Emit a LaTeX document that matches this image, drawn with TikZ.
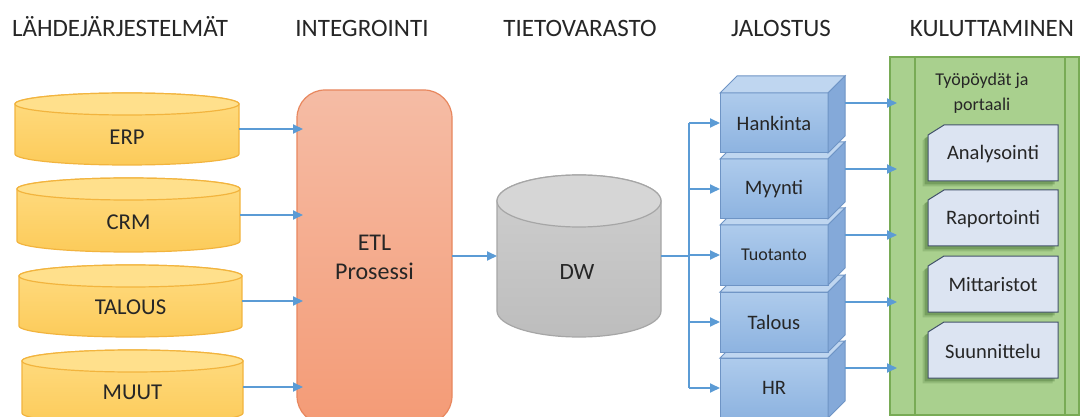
\documentclass[tikz,border=0pt]{standalone}
\usepackage{fontspec}
\setmainfont{Carlito}
\usetikzlibrary{arrows.meta,calc}
\newdimen\upx \upx=0.75pt
\definecolor{arrc}{HTML}{5B9BD5}
\definecolor{txtc}{HTML}{262626}
\definecolor{ylwtop}{HTML}{FFE08C}
\definecolor{ylwbodyA}{HTML}{FFDC82}
\definecolor{ylwbodyB}{HTML}{FCCB5A}
\definecolor{ylwline}{HTML}{F2B43E}
\definecolor{etlA}{HTML}{F5BCA5}
\definecolor{etlB}{HTML}{F49B76}
\definecolor{etlline}{HTML}{E8875E}
\definecolor{dwtop}{HTML}{D6D6D6}
\definecolor{dwA}{HTML}{CFCFCF}
\definecolor{dwB}{HTML}{BDBDBD}
\definecolor{dwline}{HTML}{A6A6A6}
\definecolor{cubeA}{HTML}{AECBEC}
\definecolor{cubeB}{HTML}{8DB3E0}
\definecolor{cubetopc}{HTML}{BFD6F0}
\definecolor{cuberightc}{HTML}{84A9D9}
\definecolor{cubeline}{HTML}{6E94C5}
\definecolor{grn}{HTML}{A9D08E}
\definecolor{grnline}{HTML}{78AB55}
\definecolor{cardc}{HTML}{DCE4F2}
\definecolor{cardline}{HTML}{43536B}
\definecolor{shadowc}{HTML}{3E6A2A}

\tikzset{
  frame/.style={inner sep=0pt, outer sep=0pt},
  hdr/.style={anchor=base, inner sep=0pt, text=txtc, font=\fontsize{18.75}{22}\selectfont},
  lbl/.style={inner sep=0pt, text=txtc, font=\fontsize{17}{20}\selectfont},
  smalllbl/.style={inner sep=0pt, text=txtc, font=\fontsize{15.4}{18}\selectfont},
  arr/.style={draw=arrc, line width=1.35pt, -{Triangle[length=7.5pt,width=6.75pt]}},
  busline/.style={draw=arrc, line width=1.35pt},
  ylwbody/.style={top color=ylwbodyA, bottom color=ylwbodyB, draw=ylwline, line width=0.9pt},
  ylwtopst/.style={fill=ylwtop, draw=ylwline, line width=0.9pt},
  dwbody/.style={top color=dwA, bottom color=dwB, draw=dwline, line width=0.9pt},
  dwtopst/.style={fill=dwtop, draw=dwline, line width=0.9pt},
  cube/.style={frame, minimum width=81pt, minimum height=45pt, top color=cubeA, bottom color=cubeB,
    draw=cubeline, line width=0.75pt, text=txtc, font=\fontsize{15.4}{18}\selectfont},
  cubetop/.style={fill=cubetopc, draw=cubeline, line width=0.75pt},
  cuberight/.style={fill=cuberightc, draw=cubeline, line width=0.75pt},
  cardframe/.style={frame, minimum width=97.5pt, minimum height=42pt},
  cardst/.style={fill=cardc, draw=cardline, line width=0.75pt},
  cardshadow/.style={fill=shadowc, opacity=0.35},
}

% cylinder drawn on a frame node spanning top-ellipse centre to bottom-ellipse centre
\newcommand{\cylshape}[5]{%
  \path[#4] (#1.north west) -- (#1.south west)
     arc[start angle=180,end angle=0,x radius=#2,y radius=#3]
     -- (#1.north east)
     arc[start angle=0,end angle=-180,x radius=#2,y radius=#3] -- cycle;
  \path[#5] (#1.north) ellipse[x radius=#2,y radius=#3];
}
\newcommand{\cubefaces}[1]{%
  \path[cubetop] (#1.north west) -- ++(17,-17) -- ($(#1.north east)+(17,-17)$) -- (#1.north east) -- cycle;
  \path[cuberight] (#1.north east) -- ++(17,-17) -- ($(#1.south east)+(17,-17)$) -- (#1.south east) -- cycle;
}
\newcommand{\cardpath}[1]{($(#1.north west)+(0,10)$) -- ($(#1.north west)+(16,0)$) -- (#1.north east) -- (#1.south east) -- (#1.south west) -- cycle}

\begin{document}
\begin{tikzpicture}[x=0.75pt,y=-0.75pt]
\useasboundingbox (0,0) rectangle (1082,417);
\clip (0,0) rectangle (1082,417);
\fill[white] (0,0) rectangle (1082,417);

% headers
\node[hdr] (h1) at (120,37) {LÄHDEJÄRJESTELMÄT};
\node[hdr] (h2) at (362,37) {INTEGROINTI};
\node[hdr] (h3) at (580,37) {TIETOVARASTO};
\node[hdr] (h4) at (781,37) {JALOSTUS};
\node[hdr] (h5) at (992,37) {KULUTTAMINEN};

% source cylinders
\node[frame, minimum width=168pt, minimum height=37.5pt] (erp) at (127,129) {};
\cylshape{erp}{112}{11}{ylwbody}{ylwtopst}
\node[lbl] (erp-t) at ($(erp.center)+(0,8)$) {ERP};

\node[frame, minimum width=167.25pt, minimum height=39pt] (crm) at (128.5,215) {};
\cylshape{crm}{111.5}{11}{ylwbody}{ylwtopst}
\node[lbl] (crm-t) at ($(crm.center)+(0,7)$) {CRM};

\node[frame, minimum width=167.25pt, minimum height=37.5pt] (tal) at (130.5,301) {};
\cylshape{tal}{111.5}{11}{ylwbody}{ylwtopst}
\node[lbl] (tal-t) at ($(tal.center)+(0,6)$) {TALOUS};

\node[frame, minimum width=165.75pt, minimum height=39pt] (muut) at (132.5,387) {};
\cylshape{muut}{110.5}{11}{ylwbody}{ylwtopst}
\node[lbl] (muut-t) at ($(muut.center)+(0,5)$) {MUUT};

% ETL
\node[frame, minimum width=116.25pt, minimum height=250.5pt, rounded corners=21pt,
  top color=etlA, bottom color=etlB, draw=etlline, line width=0.9pt,
  text=txtc, align=center, font=\fontsize{18}{21.75}\selectfont] (etl) at (374.5,257) {ETL\\Prosessi};

% DW
\node[frame, minimum width=123pt, minimum height=82.5pt] (dw) at (579,256) {};
\cylshape{dw}{82}{26}{dwbody}{dwtopst}
\node[lbl, font=\fontsize{17.5}{20}\selectfont] (dw-t) at ($(dw.center)+(-2,16)$) {DW};

% cubes (bottom first)
\node[cube] (hr) at (774,388) {HR};
\cubefaces{hr}
\node[cube] (talc) at (774,322) {Talous};
\cubefaces{talc}
\node[cube, font=\fontsize{13.5}{16}\selectfont] (tuot) at (774,255) {Tuotanto};
\cubefaces{tuot}
\node[cube] (myyn) at (774,189) {Myynti};
\cubefaces{myyn}
\node[cube] (hank) at (774,123) {Hankinta};
\cubefaces{hank}

% green panel
\node[frame, minimum width=141.75pt, minimum height=268.5pt, fill=grn, draw=grnline, line width=0.9pt] (panel) at (984.5,236) {};
\draw[grnline, line width=0.9pt] ($(panel.north west)+(25,0)$) -- ($(panel.south west)+(25,0)$);
\draw[grnline, line width=0.9pt] ($(panel.north east)+(-14,0)$) -- ($(panel.south east)+(-14,0)$);
\node[inner sep=0pt, text=txtc, align=center, font=\fontsize{13.5}{18.75}\selectfont] (tp) at (982,93) {Työpöydät ja\\portaali};

% cards
\node[cardframe] (ana) at (993,153) {};
\node[cardframe] (rap) at (993,218) {};
\node[cardframe] (mit) at (993,284) {};
\node[cardframe] (suu) at (993,350) {};
\foreach \c in {ana,rap,mit,suu}{
  \fill[cardshadow, transform canvas={shift={(-2.5pt,-2.5pt)}}] \cardpath{\c};
  \fill[cardshadow, opacity=0.2, transform canvas={shift={(-4pt,-4pt)}}] \cardpath{\c};
  \path[cardst] \cardpath{\c};
}
\node[smalllbl] (ana-t) at ($(ana.center)+(0,1)$) {Analysointi};
\node[smalllbl] (rap-t) at ($(rap.center)+(0,1)$) {Raportointi};
\node[smalllbl] (mit-t) at ($(mit.center)+(0,1)$) {Mittaristot};
\node[smalllbl] (suu-t) at ($(suu.center)+(0,1)$) {Suunnittelu};

% connectors: sources -> ETL
\foreach \s in {erp,crm,tal,muut}{
  \draw[arr, shorten >=-4.5pt] (\s.east) -- (\s.east -| etl.west);
}
% ETL -> DW
\draw[arr] (etl.east |- dw.center) -- (dw.west);
% DW -> bus -> cubes
\coordinate (bus) at (689,256);
\draw[busline] (dw.east) -- (bus);
\draw[busline] (bus |- hank.center) -- (bus |- hr.center);
\foreach \c in {hank,myyn,tuot,talc,hr}{
  \draw[arr] (bus |- \c.center) -- (\c.west);
}
% cubes -> panel
\foreach \c in {hank,myyn,tuot,talc,hr}{
  \coordinate (o-\c) at ($(\c.east)+(17,-20)$);
  \draw[arr, shorten >=-5.25pt] (o-\c) -- (o-\c -| panel.west);
}
\end{tikzpicture}
\end{document}
